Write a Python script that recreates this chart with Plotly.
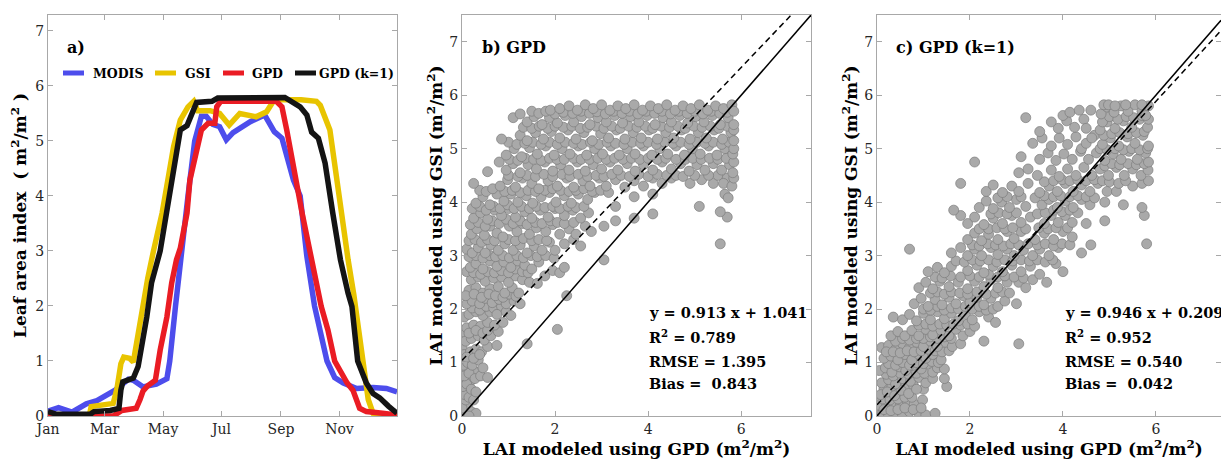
import plotly.graph_objects as go

W, H = 1221, 462
M_T, M_B = 15, 46
FONT = "DejaVu Serif"

# ---------------- panel a: seasonal LAI (day of year) ----------------
month_vals = [1, 60, 121, 182, 244, 305]
month_text = ["Jan", "Mar", "May", "Jul", "Sep", "Nov"]

modis_doy = [1, 12, 26, 41, 52, 66, 71, 85, 90, 100, 114, 125, 128, 134, 140, 147, 154, 161, 166, 173,
             180, 187, 194, 201, 212, 227, 237, 245, 250, 257, 264, 271, 279, 285, 292, 300, 309, 323, 340, 354, 365]
modis_lai = [0.09, 0.15, 0.07, 0.22, 0.28, 0.40, 0.47, 0.67, 0.65, 0.53, 0.58, 0.68, 1.0, 2.0, 3.0, 4.0, 5.0, 5.45, 5.45, 5.3,
             5.26, 5.02, 5.15, 5.22, 5.35, 5.47, 5.17, 5.05, 4.7, 4.29, 4.0, 2.9, 2.0, 1.5, 1.0, 0.70, 0.6, 0.5, 0.52, 0.5, 0.44]

gsi_doy = [1, 44, 46, 60, 69, 73, 77, 80, 86, 90, 95, 99, 105, 111, 120, 126, 132, 139, 147, 153,
           157, 170, 180, 190, 201, 218, 229, 237, 250, 265, 281, 285, 295, 302, 314, 320, 325, 330, 335, 340, 365]
gsi_lai = [0.0, 0.0, 0.17, 0.2, 0.23, 0.5, 0.95, 1.07, 1.05, 0.98, 1.5, 2.0, 2.5, 3.0, 3.69, 4.29, 4.9, 5.38, 5.62, 5.72,
           5.55, 5.55, 5.5, 5.29, 5.5, 5.44, 5.53, 5.75, 5.76, 5.75, 5.72, 5.65, 5.2, 4.29, 2.84, 2.2, 1.5, 0.8, 0.3, 0.05, 0.0]

gpd_doy = [1, 69, 78, 93, 97, 100, 105, 113, 118, 125, 130, 135, 139, 146, 149, 154, 161, 168, 175, 177,
           181, 239, 245, 250, 259, 266, 276, 286, 293, 300, 313, 319, 326, 333, 350, 365]
gpd_lai = [0.0, 0.0, 0.1, 0.14, 0.3, 0.45, 0.55, 0.65, 1.2, 1.8, 2.42, 2.84, 3.05, 3.69, 4.29, 4.71, 5.2, 5.32, 5.32, 5.62,
           5.72, 5.72, 5.62, 5.2, 4.29, 3.69, 2.84, 1.99, 1.56, 1.0, 0.6, 0.47, 0.14, 0.08, 0.05, 0.02]

k1_doy = [1, 10, 45, 49, 66, 75, 77, 79, 90, 95, 104, 109, 118, 125, 133, 139, 146, 151, 156, 172,
          178, 248, 255, 264, 271, 276, 283, 290, 298, 306, 314, 318, 324, 333, 340, 347, 356, 363, 365]
k1_lai = [0.08, 0.03, 0.03, 0.08, 0.1, 0.14, 0.47, 0.62, 0.69, 0.9, 1.8, 2.42, 3.0, 3.69, 4.6, 5.2, 5.28, 5.5, 5.7, 5.72,
          5.78, 5.79, 5.72, 5.62, 5.47, 5.16, 5.05, 4.6, 3.69, 2.84, 2.23, 1.99, 1.0, 0.6, 0.41, 0.33, 0.18, 0.08, 0.05]

series_names = ["MODIS", "GSI", "GPD", "GPD (k=1)"]
series_colors = ["#4d4dec", "#e8c400", "#ea1c24", "#141414"]

# ---------------- panel b: GPD vs GSI ----------------
b_points = [
    (0.02, 0.02), (0.05, 0.1), (0.1, 0.05), (0.03, 0.25), (0.12, 0.2), (0.2, 0.08), (0.3, 0.05), (0.15, 0.0),
    (0.0, 0.15), (0.0, 0.45), (0.0, 0.85), (0.0, 1.3), (0.02, 1.6), (0.08, 1.55),
    (0.08, 0.3), (0.14, 0.5), (0.08, 0.68), (0.18, 0.65), (0.1, 0.88), (0.25, 0.85),
    (0.06, 0.4), (0.15, 0.35), (0.25, 0.3), (0.02, 0.55), (0.1, 0.6), (0.2, 0.5), (0.3, 0.45), (0.05, 0.75),
    (0.15, 0.8), (0.28, 0.7), (0.4, 0.75), (0.55, 0.72), (0.03, 0.95), (0.12, 1.0), (0.22, 0.95), (0.35, 1.05),
    (0.45, 0.9), (0.05, 1.15), (0.18, 1.2), (0.3, 1.25), (0.42, 1.2), (0.55, 1.3), (0.75, 1.32), (0.08, 1.4),
    (0.1, 1.1), (0.25, 1.08), (0.38, 1.15),
    (0.2, 1.45), (0.35, 1.5), (0.48, 1.42), (0.62, 1.5), (0.78, 1.58), (0.1, 1.65), (0.25, 1.7), (0.4, 1.68),
    (0.15, 1.55), (0.3, 1.6), (0.45, 1.55), (0.55, 1.6),
    (0.55, 1.75), (0.7, 1.7), (0.88, 1.75), (0.05, 1.85), (0.15, 1.9), (0.3, 1.95), (0.45, 1.88), (0.6, 1.95),
    (0.22, 2.02), (0.38, 1.98), (0.52, 2.05), (0.68, 2.02), (0.85, 2.05),
    (0.75, 1.9), (0.95, 1.95), (1.05, 1.88), (0.1, 2.1), (0.22, 2.15), (0.38, 2.1), (0.5, 2.2), (0.65, 2.12),
    (0.8, 2.18), (0.95, 2.1), (1.12, 2.15), (1.25, 2.1), (0.15, 2.35), (0.3, 2.4), (0.45, 2.3), (0.6, 2.38),
    (0.08, 2.25), (0.26, 2.28), (0.42, 2.22), (0.58, 2.28), (0.72, 2.25), (0.88, 2.22), (1.02, 2.28), (1.16, 2.24),
    (0.78, 2.42), (0.92, 2.3), (1.08, 2.4), (1.22, 2.3), (0.2, 2.55), (0.35, 2.6), (0.5, 2.52), (0.68, 2.58),
    (0.85, 2.6), (1.0, 2.5), (1.15, 2.62), (1.3, 2.55), (1.45, 2.5), (1.62, 2.48), (1.78, 2.62),
    (0.1, 2.7), (0.25, 2.68), (0.4, 2.65), (0.55, 2.7), (0.7, 2.68), (0.85, 2.72), (1.0, 2.68), (1.15, 2.75),
    (1.3, 2.7), (1.42, 2.68),
    (1.4, 1.35), (2.05, 1.62), (2.25, 2.25),
    (0.18, 2.78), (0.3, 2.85), (0.45, 2.75), (0.6, 2.9), (0.75, 2.8), (0.9, 2.88), (1.05, 2.78), (1.2, 2.9),
    (1.35, 2.82), (1.5, 2.75), (1.65, 2.88), (1.95, 2.72), (2.1, 2.68), (2.2, 2.78), (3.05, 2.92),
    (0.15, 2.98), (0.3, 3.0), (0.45, 2.95), (0.6, 3.0), (0.72, 2.98), (0.88, 3.0), (1.02, 2.96), (1.18, 3.0),
    (1.32, 2.96), (1.48, 3.0), (1.62, 2.98), (1.8, 3.0), (1.98, 2.95),
    (0.1, 3.12), (0.22, 3.05), (0.35, 3.15), (0.5, 3.05), (0.62, 3.2), (0.78, 3.1), (0.92, 3.22), (1.1, 3.1),
    (1.25, 3.2), (1.4, 3.05), (1.55, 3.18), (1.72, 3.1), (1.88, 3.25), (2.0, 3.1), (2.2, 3.22), (2.4, 3.3),
    (2.55, 3.18), (5.55, 3.22),
    (0.15, 3.28), (0.28, 3.3), (0.42, 3.25), (0.55, 3.3), (0.7, 3.28), (1.0, 3.3), (1.15, 3.28), (1.32, 3.32),
    (1.5, 3.28), (1.65, 3.3), (1.82, 3.28),
    (0.2, 3.4), (0.32, 3.5), (0.48, 3.38), (0.6, 3.55), (0.75, 3.42), (0.88, 3.35), (1.02, 3.55), (1.18, 3.45),
    (1.3, 3.6), (1.45, 3.4), (1.6, 3.52), (1.8, 3.45), (1.95, 3.58), (2.1, 3.4), (2.3, 3.5), (2.45, 3.4),
    (2.65, 3.55), (2.78, 3.45), (3.05, 3.55),
    (0.18, 3.58), (0.35, 3.62), (0.5, 3.55), (0.65, 3.65), (0.8, 3.6), (0.95, 3.68), (1.1, 3.6), (1.25, 3.65),
    (1.4, 3.58), (1.58, 3.62), (1.72, 3.6), (1.9, 3.65), (2.05, 3.62), (2.2, 3.6), (2.4, 3.62),
    (0.25, 3.7), (0.4, 3.8), (0.55, 3.68), (0.7, 3.85), (0.85, 3.75), (1.0, 3.88), (1.15, 3.72), (1.35, 3.82),
    (1.5, 3.7), (1.68, 3.85), (1.85, 3.72), (2.0, 3.88), (2.2, 3.75), (2.38, 3.85), (2.55, 3.7), (2.72, 3.8),
    (3.3, 3.65), (3.7, 3.7), (4.1, 3.78), (5.7, 3.72),
    (0.22, 3.88), (0.38, 3.92), (0.52, 3.85), (0.68, 3.92), (0.82, 3.88), (0.98, 3.95), (1.12, 3.88), (1.28, 3.92),
    (1.45, 3.88), (1.6, 3.92), (1.78, 3.9), (1.95, 3.92), (2.1, 3.88), (2.28, 3.92), (2.45, 3.9), (2.62, 3.92),
    (0.3, 3.98), (0.45, 4.1), (0.6, 3.95), (0.75, 4.15), (0.9, 4.02), (1.05, 4.15), (1.2, 4.0), (1.38, 4.12),
    (1.52, 3.98), (1.7, 4.1), (1.88, 4.18), (2.02, 4.0), (2.2, 4.12), (2.35, 3.98), (2.5, 4.15), (2.7, 4.05),
    (2.85, 4.18), (3.3, 3.92), (3.7, 4.1), (4.1, 4.15), (5.1, 3.92), (5.55, 3.82), (5.65, 4.15), (5.72, 4.08),
    (0.38, 4.22), (0.52, 4.2), (0.66, 4.25), (0.92, 4.2), (1.08, 4.22), (1.25, 4.18), (1.42, 4.22), (1.58, 4.2),
    (1.78, 4.22), (1.95, 4.25), (2.12, 4.22), (2.3, 4.2), (2.45, 4.22), (2.62, 4.25), (2.8, 4.2), (2.98, 4.22),
    (3.15, 4.18),
    (0.25, 4.35), (0.82, 4.3), (0.98, 4.42), (1.15, 4.28), (1.3, 4.45), (1.5, 4.35), (1.65, 4.25), (1.85, 4.4),
    (2.05, 4.3), (2.25, 4.45), (2.4, 4.28), (2.6, 4.4), (2.75, 4.3), (2.95, 4.45), (3.1, 4.3), (3.3, 4.42),
    (3.5, 4.28), (3.7, 4.4), (3.9, 4.3), (4.1, 4.45), (4.3, 4.35), (4.5, 4.45), (4.9, 4.35), (5.15, 4.42),
    (5.4, 4.35), (5.5, 4.5), (5.7, 4.45), (5.62, 4.35), (5.8, 4.3), (5.84, 4.45),
    (1.0, 4.5), (1.2, 4.48), (1.4, 4.5), (1.58, 4.48), (1.76, 4.52), (1.95, 4.48), (2.15, 4.52), (2.32, 4.48),
    (2.5, 4.52), (2.7, 4.48), (2.88, 4.5), (3.05, 4.48), (3.22, 4.52), (3.42, 4.5), (3.6, 4.48), (3.8, 4.52),
    (4.0, 4.48), (4.2, 4.52), (4.4, 4.5), (4.6, 4.5), (4.75, 4.48), (5.0, 4.5), (5.3, 4.5),
    (0.55, 4.57), (0.8, 4.75), (0.95, 4.6), (1.1, 4.72), (1.25, 4.55), (1.42, 4.7), (1.6, 4.62), (1.78, 4.75),
    (1.95, 4.58), (2.12, 4.7), (2.3, 4.6), (2.48, 4.75), (2.65, 4.58), (2.82, 4.7), (3.0, 4.62), (3.18, 4.75),
    (3.35, 4.6), (3.55, 4.72), (3.72, 4.58), (3.9, 4.7), (4.1, 4.6), (4.3, 4.75), (4.5, 4.62), (4.7, 4.72),
    (4.88, 4.58), (5.05, 4.7), (5.22, 4.6), (5.4, 4.72), (5.58, 4.6), (5.75, 4.7), (5.82, 4.55),
    (1.02, 4.8), (1.2, 4.78), (1.36, 4.82), (1.54, 4.8), (1.7, 4.78), (1.88, 4.82), (2.04, 4.8), (2.2, 4.8),
    (2.4, 4.82), (2.56, 4.8), (2.74, 4.8), (2.92, 4.82), (3.1, 4.8), (3.28, 4.82), (3.46, 4.8), (3.64, 4.82),
    (3.82, 4.8), (4.0, 4.82), (4.2, 4.8), (4.38, 4.82), (4.6, 4.8), (4.8, 4.8), (4.96, 4.82), (5.14, 4.8),
    (5.32, 4.82), (5.5, 4.8), (5.68, 4.82), (5.84, 4.75),
    (0.95, 4.88), (1.12, 5.0), (1.28, 4.85), (1.45, 5.02), (1.62, 4.9), (1.8, 5.05), (1.98, 4.88), (2.15, 5.0),
    (2.32, 4.9), (2.5, 5.05), (2.68, 4.88), (2.85, 5.0), (3.02, 4.9), (3.2, 5.05), (3.38, 4.88), (3.55, 5.0),
    (3.72, 4.9), (3.9, 5.05), (4.08, 4.88), (4.25, 5.0), (4.42, 4.9), (4.6, 5.05), (4.78, 4.88), (4.95, 5.0),
    (5.12, 4.9), (5.3, 5.05), (5.48, 4.88), (5.65, 5.0), (5.82, 4.9),
    (1.0, 5.12), (1.18, 5.08), (1.35, 5.1), (1.52, 5.12), (1.7, 5.08), (1.88, 5.12), (2.05, 5.08), (2.22, 5.12),
    (2.4, 5.1), (2.58, 5.08), (2.76, 5.12), (2.94, 5.08), (3.12, 5.12), (3.3, 5.1), (3.48, 5.08), (3.66, 5.12),
    (3.84, 5.1), (4.0, 5.12), (4.18, 5.08), (4.36, 5.12), (4.54, 5.1), (4.7, 5.12), (4.88, 5.08), (5.05, 5.12),
    (5.22, 5.1), (5.4, 5.12), (5.58, 5.08), (5.74, 5.12), (5.84, 5.0),
    (0.85, 5.18), (1.25, 5.25), (1.4, 5.15), (1.58, 5.3), (1.75, 5.18), (1.92, 5.32), (2.1, 5.2), (2.28, 5.35),
    (2.45, 5.18), (2.62, 5.3), (2.8, 5.15), (2.98, 5.28), (3.15, 5.2), (3.32, 5.35), (3.5, 5.18), (3.68, 5.3),
    (3.85, 5.2), (4.02, 5.35), (4.2, 5.18), (4.38, 5.3), (4.55, 5.2), (4.72, 5.35), (4.9, 5.18), (5.08, 5.3),
    (5.25, 5.2), (5.42, 5.35), (5.6, 5.18), (5.78, 5.3), (5.84, 5.15),
    (1.32, 5.4), (1.5, 5.38), (1.66, 5.42), (1.84, 5.38), (2.0, 5.42), (2.18, 5.4), (2.36, 5.42), (2.54, 5.38),
    (2.7, 5.4), (2.88, 5.42), (3.05, 5.38), (3.22, 5.42), (3.4, 5.38), (3.58, 5.42), (3.76, 5.4), (3.94, 5.42),
    (4.1, 5.38), (4.28, 5.42), (4.46, 5.4), (4.64, 5.42), (4.8, 5.38), (4.98, 5.42), (5.16, 5.4), (5.34, 5.42),
    (5.52, 5.38), (5.7, 5.42), (5.84, 5.35),
    (1.1, 5.58), (1.25, 5.65), (1.4, 5.5), (1.55, 5.6), (1.72, 5.45), (1.88, 5.58), (2.05, 5.48), (2.22, 5.62),
    (2.4, 5.5), (2.57, 5.6), (2.75, 5.45), (2.92, 5.58), (3.1, 5.5), (3.28, 5.62), (3.45, 5.48), (3.62, 5.6),
    (3.8, 5.5), (3.98, 5.62), (4.15, 5.45), (4.32, 5.58), (4.5, 5.5), (4.68, 5.62), (4.85, 5.48), (5.02, 5.6),
    (5.2, 5.5), (5.38, 5.62), (5.55, 5.45), (5.72, 5.58), (5.84, 5.45),
    (1.5, 5.7), (1.65, 5.66), (1.8, 5.7), (2.0, 5.65), (2.18, 5.68), (2.38, 5.66), (2.56, 5.7), (2.74, 5.66),
    (2.9, 5.69), (3.08, 5.65), (3.26, 5.7), (3.44, 5.66), (3.6, 5.7), (3.78, 5.65), (3.96, 5.7), (4.14, 5.66),
    (4.3, 5.7), (4.48, 5.65), (4.66, 5.7), (4.84, 5.66), (5.0, 5.7), (5.18, 5.65), (5.36, 5.7), (5.54, 5.66),
    (5.7, 5.68),
    (1.9, 5.72), (2.1, 5.75), (2.3, 5.8), (2.48, 5.72), (2.65, 5.82), (2.82, 5.75), (3.0, 5.82), (3.18, 5.72),
    (3.35, 5.8), (3.52, 5.75), (3.7, 5.82), (3.88, 5.72), (4.05, 5.8), (4.22, 5.75), (4.4, 5.82), (4.58, 5.72),
    (4.75, 5.8), (4.92, 5.75), (5.1, 5.82), (5.28, 5.72), (5.45, 5.8), (5.62, 5.75), (5.8, 5.82), (5.84, 5.7),
]

# ---------------- panel c: GPD (k=1) vs GSI ----------------
c_points = [
    (0.02, 0.02), (0.12, 0.05), (0.25, 0.0), (0.4, 0.05), (0.55, 0.02), (0.7, 0.08), (0.9, 0.05), (1.05, 0.02),
    (1.25, 0.05), (0.05, 0.2), (0.2, 0.18), (0.35, 0.25), (0.5, 0.2), (0.65, 0.28), (0.8, 0.22), (0.98, 0.3),
    (0.15, 0.12), (0.3, 0.1), (0.45, 0.12), (0.6, 0.15), (0.78, 0.12), (0.95, 0.15), (0.12, 0.32), (0.28, 0.3),
    (0.45, 0.32), (0.6, 0.35), (0.75, 0.35), (0.15, 0.52), (0.32, 0.55), (0.48, 0.55), (0.62, 0.55), (0.78, 0.58),
    (1.0, 0.5),
    (0.08, 0.4), (0.22, 0.45), (0.38, 0.38), (0.52, 0.48), (0.68, 0.42), (0.85, 0.5), (1.5, 0.55), (0.1, 0.62),
    (0.25, 0.68), (0.4, 0.6), (0.55, 0.7), (0.72, 0.65), (0.9, 0.72), (1.05, 0.62), (1.2, 0.7), (1.45, 0.7),
    (0.2, 0.78), (0.35, 0.75), (0.5, 0.8), (0.68, 0.78), (0.85, 0.8), (1.02, 0.8), (1.2, 0.82),
    (0.05, 0.85), (0.18, 0.9), (0.32, 0.82), (0.48, 0.92), (0.62, 0.85), (0.78, 0.95), (0.95, 0.88), (1.1, 0.98),
    (1.3, 0.9), (1.45, 0.88), (0.25, 0.98), (0.4, 0.95), (0.55, 1.0), (0.7, 0.95), (0.85, 1.0), (1.0, 0.98),
    (1.18, 1.02), (1.32, 1.0),
    (0.15, 1.08), (0.3, 1.12), (0.45, 1.05), (0.6, 1.15), (0.75, 1.05), (0.9, 1.15),
    (1.05, 1.08), (1.2, 1.15), (1.38, 1.05), (0.1, 1.28), (0.25, 1.32), (0.4, 1.25), (0.55, 1.35), (0.7, 1.28),
    (0.2, 1.2), (0.35, 1.2), (0.5, 1.18), (0.65, 1.22), (0.8, 1.2), (0.95, 1.22), (1.1, 1.25), (1.25, 1.22),
    (1.4, 1.2), (1.55, 1.22),
    (0.85, 1.38), (1.0, 1.3), (1.15, 1.4), (1.3, 1.3), (1.48, 1.38), (1.62, 1.3), (1.8, 1.35), (3.05, 1.35),
    (0.4, 1.4), (0.55, 1.45), (0.7, 1.42), (0.85, 1.45), (1.0, 1.45), (1.15, 1.48), (1.3, 1.45), (1.45, 1.48),
    (1.6, 1.45),
    (0.3, 1.5), (0.45, 1.58), (0.6, 1.5), (0.75, 1.6), (0.9, 1.5), (1.05, 1.62), (1.2, 1.52), (1.38, 1.6),
    (1.55, 1.5), (1.7, 1.62), (1.85, 1.5), (2.0, 1.58), (2.3, 1.4),
    (0.9, 1.7), (1.05, 1.72), (1.2, 1.68), (1.35, 1.72), (1.5, 1.7), (1.65, 1.72), (1.8, 1.7), (1.95, 1.72),
    (2.1, 1.68),
    (0.35, 1.85), (0.55, 1.8), (0.7, 1.9), (0.85, 1.78), (1.0, 1.92), (1.15, 1.8), (1.3, 1.95), (1.45, 1.82),
    (1.6, 1.92), (1.75, 1.78), (1.9, 1.9), (2.05, 1.8), (2.2, 1.95), (2.4, 1.85), (2.55, 1.75),
    (1.0, 2.0), (1.15, 1.98), (1.3, 2.05), (1.45, 1.98), (1.6, 2.02), (1.75, 2.0), (1.9, 2.05), (2.05, 2.0),
    (2.2, 2.05), (2.35, 1.98), (2.5, 2.0),
    (0.8, 2.1), (0.95, 2.2), (1.1, 2.05), (1.25, 2.18), (1.4, 2.08), (1.55, 2.22), (1.7, 2.1), (1.85, 2.25),
    (2.0, 2.12), (2.15, 2.22), (2.3, 2.08), (2.45, 2.2), (2.6, 2.05), (2.75, 2.15), (3.0, 2.1),
    (1.15, 2.3), (1.3, 2.32), (1.45, 2.28), (1.6, 2.32), (1.78, 2.3), (1.95, 2.28), (2.15, 2.32), (2.35, 2.28),
    (2.55, 2.3), (2.7, 2.32), (2.85, 2.3),
    (0.9, 2.4), (1.05, 2.5), (1.2, 2.38), (1.35, 2.52), (1.55, 2.42), (1.75, 2.5), (1.95, 2.38), (2.1, 2.52),
    (2.3, 2.42), (2.45, 2.55), (2.6, 2.4), (2.8, 2.5), (3.05, 2.5), (3.2, 2.4), (3.65, 2.5),
    (1.25, 2.6), (1.4, 2.58), (1.58, 2.62), (1.8, 2.6), (2.0, 2.62), (2.2, 2.6), (2.4, 2.65), (2.6, 2.6),
    (2.75, 2.62), (2.95, 2.6), (3.15, 2.58), (3.35, 2.55),
    (1.1, 2.7), (1.3, 2.78), (1.45, 2.68), (1.6, 2.8), (1.95, 2.72), (2.15, 2.82), (2.3, 2.68), (2.5, 2.8),
    (2.7, 2.7), (2.9, 2.82), (3.1, 2.7), (3.3, 2.8), (3.5, 2.65), (3.85, 2.85), (4.0, 2.7),
    (1.7, 2.9), (1.88, 2.88), (2.05, 2.92), (2.22, 2.9), (2.4, 2.92), (2.58, 2.88), (2.75, 2.92), (2.92, 2.9),
    (3.1, 2.92), (3.28, 2.9), (3.45, 2.92), (3.62, 2.88), (3.78, 2.92),
    (0.7, 3.12), (1.6, 3.05), (1.8, 3.15), (1.95, 3.0), (2.1, 3.12), (2.25, 3.0), (2.45, 3.15), (2.6, 3.02),
    (2.8, 3.12), (2.95, 3.0), (3.15, 3.1), (3.35, 3.0), (3.5, 3.12), (3.7, 3.0), (3.9, 3.15), (4.4, 3.05),
    (2.05, 3.2), (2.2, 3.18), (2.38, 3.22), (2.55, 3.2), (2.72, 3.18), (2.88, 3.22), (3.05, 3.2), (3.25, 3.22),
    (3.45, 3.2), (3.62, 3.22), (3.8, 3.18), (3.98, 3.22), (4.15, 3.2),
    (1.95, 3.3), (2.1, 3.42), (2.25, 3.28), (2.4, 3.4), (2.6, 3.3), (2.8, 3.45), (2.95, 3.32), (3.1, 3.45),
    (3.4, 3.3), (3.6, 3.42), (3.8, 3.3), (4.0, 3.45), (4.2, 3.35), (4.6, 3.2), (5.8, 3.22),
    (2.2, 3.5), (2.4, 3.5), (2.58, 3.52), (2.75, 3.5), (2.92, 3.52), (3.2, 3.5), (3.48, 3.52), (3.68, 3.5),
    (3.85, 3.52), (4.1, 3.52),
    (1.8, 3.75), (1.95, 3.6), (2.1, 3.72), (2.3, 3.58), (2.5, 3.7), (2.7, 3.6), (2.9, 3.75), (3.1, 3.62),
    (3.3, 3.72), (3.6, 3.6), (3.75, 3.75), (3.9, 3.62), (4.05, 3.75), (4.2, 3.62), (4.5, 3.6), (4.9, 3.65),
    (5.75, 3.75),
    (2.45, 3.78), (2.62, 3.8), (2.8, 3.78), (3.0, 3.8), (3.45, 3.78), (3.62, 3.8), (3.8, 3.85), (3.98, 3.82),
    (4.15, 3.85), (4.32, 3.8),
    (1.65, 3.85), (2.2, 3.9), (2.35, 4.02), (2.5, 3.88), (2.68, 4.0), (2.85, 3.9), (3.0, 4.05), (3.2, 3.92),
    (3.55, 3.95), (3.7, 4.05), (3.88, 3.9), (4.05, 4.02), (4.22, 3.9), (4.4, 4.05), (4.58, 3.95), (4.9, 4.0),
    (5.3, 3.95), (5.7, 3.9),
    (2.6, 4.08), (2.8, 4.1), (3.1, 4.1), (3.4, 4.08), (3.6, 4.12), (3.8, 4.1), (3.95, 4.12), (4.15, 4.1),
    (4.32, 4.12), (4.5, 4.1), (4.68, 4.08),
    (1.8, 4.35), (2.35, 4.2), (2.5, 4.32), (2.7, 4.18), (2.9, 4.3), (3.05, 4.2), (3.25, 4.35), (3.5, 4.18),
    (3.7, 4.3), (3.88, 4.2), (4.05, 4.35), (4.22, 4.2), (4.4, 4.32), (4.58, 4.2), (4.75, 4.35), (4.95, 4.2),
    (5.15, 4.2), (5.5, 4.3),
    (3.6, 4.38), (3.8, 4.4), (3.98, 4.42), (4.15, 4.4), (4.32, 4.42), (4.5, 4.4), (4.68, 4.42), (4.85, 4.4),
    (5.0, 4.38), (5.2, 4.35), (5.35, 4.4), (5.7, 4.35), (5.84, 4.4),
    (3.05, 4.55), (3.25, 4.62), (3.45, 4.5), (3.75, 4.6), (3.92, 4.48), (4.1, 4.62), (4.28, 4.5), (4.45, 4.65),
    (4.62, 4.5), (4.8, 4.62), (4.98, 4.5), (5.15, 4.65), (5.32, 4.5), (5.5, 4.62), (5.68, 4.5), (5.83, 4.6),
    (4.9, 4.68), (5.05, 4.72), (5.22, 4.7), (5.4, 4.72), (5.58, 4.7), (5.75, 4.72), (5.84, 4.75),
    (2.1, 4.75), (3.1, 4.85), (3.5, 4.8), (3.68, 4.92), (3.85, 4.78), (4.02, 4.9), (4.2, 4.8), (4.38, 4.95),
    (4.55, 4.8), (4.72, 4.92), (4.9, 4.78), (5.08, 4.9), (5.25, 4.8), (5.42, 4.95), (5.6, 4.8), (5.78, 4.92),
    (4.8, 5.0), (4.95, 4.98), (5.12, 5.0), (5.3, 4.98), (5.48, 5.0), (5.65, 4.98), (5.82, 5.0), (4.4, 5.0),
    (3.35, 5.1), (3.55, 5.2), (3.75, 5.05), (3.92, 5.2), (4.1, 5.08), (4.28, 5.22), (4.5, 5.1), (4.68, 5.25),
    (4.85, 5.08), (5.02, 5.2), (5.2, 5.05), (5.38, 5.22), (5.55, 5.1), (5.72, 5.25), (5.84, 5.05),
    (4.88, 5.25), (5.05, 5.28), (5.22, 5.3), (5.4, 5.28), (5.58, 5.3), (5.75, 5.32), (4.62, 5.2),
    (3.5, 5.32), (3.75, 5.5), (3.9, 5.38), (4.08, 5.52), (4.25, 5.4), (4.45, 5.55), (4.8, 5.35), (4.95, 5.5),
    (5.12, 5.38), (5.3, 5.52), (5.48, 5.4), (5.65, 5.55), (5.82, 5.4), (3.2, 5.58), (4.5, 5.38),
    (4.85, 5.5), (5.0, 5.6), (5.18, 5.55), (5.36, 5.6), (5.52, 5.58), (5.7, 5.62), (5.84, 5.55),
    (4.0, 5.62), (4.15, 5.68), (4.35, 5.72), (4.82, 5.65), (4.95, 5.78), (5.1, 5.68), (5.25, 5.8), (5.4, 5.7),
    (5.55, 5.82), (5.7, 5.7), (5.84, 5.8), (4.88, 5.82), (5.35, 5.82), (5.78, 5.62),
    (4.98, 5.82), (5.12, 5.8), (5.7, 5.82), (4.6, 5.72),
]

# regression statistics shown on the panels
b_slope, b_intercept = 0.913, 1.041
c_slope, c_intercept = 0.946, 0.209
b_stats = ["y = 0.913 x + 1.041", "R<sup>2</sup> = 0.789", "RMSE = 1.395", "Bias =  0.843"]
c_stats = ["y = 0.946 x + 0.209", "R<sup>2</sup> = 0.952", "RMSE = 0.540", "Bias =  0.042"]

B_MAX, C_MAX = 7.5, 7.4


def px_x(x):
    return x / W


def px_y(y):
    return (H - M_B - y) / (H - M_T - M_B)


fig = go.Figure()

# panel a lines
for name, col, xs, ys in zip(series_names, series_colors,
                             [modis_doy, gsi_doy, gpd_doy, k1_doy],
                             [modis_lai, gsi_lai, gpd_lai, k1_lai]):
    fig.add_trace(go.Scatter(x=xs, y=ys, mode="lines", name=name,
                             line=dict(color=col, width=5.5), showlegend=False,
                             xaxis="x", yaxis="y"))

# scatter panels
marker = dict(size=10, color="#a9a9a9", line=dict(color="#7c7c7c", width=0.7))
for pts, ax, ay in [(b_points, "x2", "y2"), (c_points, "x3", "y3")]:
    fig.add_trace(go.Scatter(x=[p[0] for p in pts], y=[p[1] for p in pts], mode="markers",
                             marker=marker, showlegend=False, xaxis=ax, yaxis=ay))

# 1:1 and regression lines
for slope, icpt, xmax, ax, ay in [(b_slope, b_intercept, B_MAX, "x2", "y2"),
                                  (c_slope, c_intercept, C_MAX, "x3", "y3")]:
    fig.add_trace(go.Scatter(x=[0, xmax], y=[0, xmax], mode="lines",
                             line=dict(color="black", width=1.5), showlegend=False, xaxis=ax, yaxis=ay))
    fig.add_trace(go.Scatter(x=[0, xmax], y=[icpt, icpt + slope * xmax], mode="lines",
                             line=dict(color="black", width=1.5, dash="6px,4px"),
                             showlegend=False, xaxis=ax, yaxis=ay))

axis_common = dict(showline=True, linecolor="#a8a8a8", linewidth=1, mirror="ticks", automargin=False,
                   ticks="inside", ticklen=5, tickcolor="#a8a8a8", showgrid=False, zeroline=False,
                   tickfont=dict(family=FONT, size=14, color="#262626"))
title_font = dict(family=FONT, size=17, color="black", weight="bold")
unit = "(m<sup>2</sup>/m<sup>2</sup>)"

fig.update_layout(
    width=W, height=H, margin=dict(l=0, r=0, t=M_T, b=M_B),
    paper_bgcolor="white", plot_bgcolor="white",
    xaxis=dict(domain=[px_x(48), px_x(397)], range=[1, 365], tickvals=month_vals, ticktext=month_text,
               anchor="y", **axis_common),
    yaxis=dict(domain=[0, 1], range=[0, 7.29], tickvals=list(range(8)), anchor="x",
               title=dict(text="Leaf area index  ( m<sup>2</sup>/m<sup>2</sup> )", font=title_font, standoff=4),
               **axis_common),
    xaxis2=dict(domain=[px_x(462), px_x(811)], range=[0, B_MAX], tickvals=[0, 2, 4, 6], anchor="y2",
                title=dict(text="LAI modeled using GPD " + unit, font=title_font, standoff=0), **axis_common),
    yaxis2=dict(domain=[0, 1], range=[0, B_MAX], tickvals=list(range(8)), anchor="x2",
                title=dict(text="LAI modeled using GSI " + unit, font=title_font, standoff=2), **axis_common),
    xaxis3=dict(domain=[px_x(877), 1.0], range=[0, C_MAX], tickvals=[0, 2, 4, 6], anchor="y3",
                title=dict(text="LAI modeled using GPD " + unit, font=title_font, standoff=0), **axis_common),
    yaxis3=dict(domain=[0, 1], range=[0, B_MAX], tickvals=list(range(8)), anchor="x3",
                title=dict(text="LAI modeled using GSI " + unit, font=title_font, standoff=2), **axis_common),
)

annotations = []
shapes = []
label_font = dict(family=FONT, size=16, color="black", weight="bold")
for text, xl in [("a)", 65), ("b) GPD", 480), ("c) GPD (k=1)", 894)]:
    annotations.append(dict(text=text, x=px_x(xl), y=px_y(47), xref="paper", yref="paper",
                            xanchor="left", yanchor="middle", showarrow=False, font=label_font))

# manual legend for panel a
leg_font = dict(family=FONT, size=12.5, color="black", weight="bold")
leg_items = [(63, 91), (155, 183), (223, 250), (295, 317)]
for (lx, tx), name, col in zip(leg_items, series_names, series_colors):
    shapes.append(dict(type="line", xref="paper", yref="paper", x0=px_x(lx), x1=px_x(lx + 21),
                       y0=px_y(73), y1=px_y(73), line=dict(color=col, width=5)))
    annotations.append(dict(text=name, x=px_x(tx), y=px_y(73), xref="paper", yref="paper",
                            xanchor="left", yanchor="middle", showarrow=False, font=leg_font))

stat_font = dict(family=FONT, size=14.5, color="black", weight="bold")
for stats, xl in [(b_stats, 647), (c_stats, 1063)]:
    for txt, yc in zip(stats, [312, 336, 361, 383]):
        annotations.append(dict(text=txt, x=px_x(xl), y=px_y(yc), xref="paper", yref="paper",
                                xanchor="left", yanchor="middle", showarrow=False, font=stat_font))

fig.update_layout(annotations=annotations, shapes=shapes)
# remove the browser's default page margin so the figure sits at the window's top-left corner
fig.write_html("out.html", config={"displayModeBar": False},
               post_script="document.body.style.margin='0';")
